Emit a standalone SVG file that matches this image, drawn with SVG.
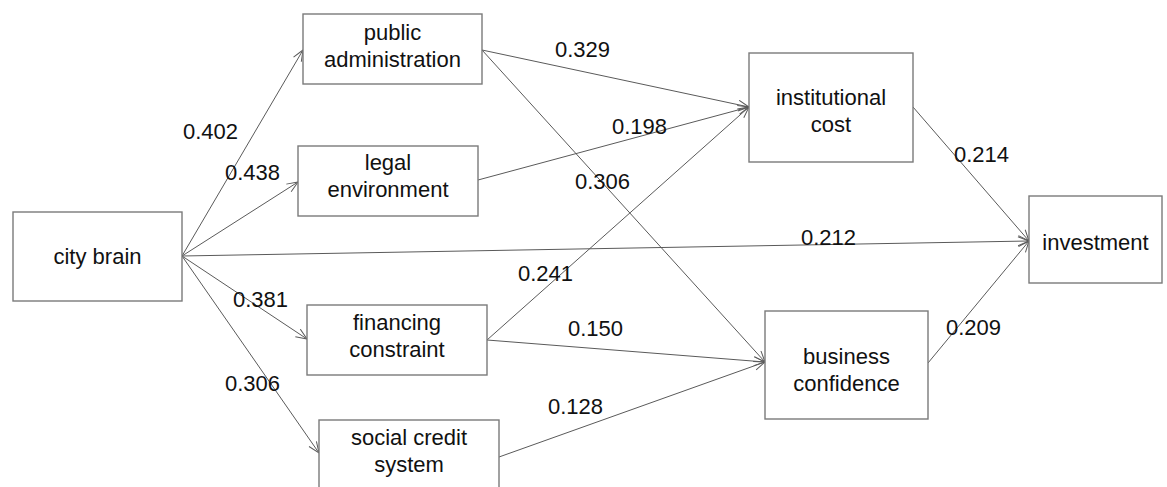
<svg xmlns="http://www.w3.org/2000/svg" width="1167" height="487" viewBox="0 0 1167 487">
<style>
.box{fill:#fff;stroke:#7a7a7a;stroke-width:1.4}
.t{font-family:"Liberation Sans",Arial,sans-serif;font-size:22px;fill:#111;text-anchor:middle}
.l{font-family:"Liberation Sans",Arial,sans-serif;font-size:22px;fill:#111}
.c{stroke:#5a5a5a;stroke-width:1;fill:none;marker-end:url(#ah)}
</style>
<defs>
<marker id="ah" markerUnits="userSpaceOnUse" markerWidth="14" markerHeight="12" refX="12" refY="5" orient="auto">
<path d="M1,0.5 L12,5 L1,9.5" fill="none" stroke="#5a5a5a" stroke-width="1"/>
</marker>
</defs>
<rect width="1167" height="487" fill="#fff"/>
<g id="connectors">
<line class="c" x1="182" y1="256" x2="303" y2="50"/>
<line class="c" x1="182" y1="256" x2="298" y2="182"/>
<line class="c" x1="182" y1="256" x2="307" y2="339"/>
<line class="c" x1="182" y1="256" x2="319" y2="453"/>
<line class="c" x1="182" y1="256" x2="1029" y2="241"/>
<line class="c" x1="482" y1="50" x2="749" y2="107"/>
<line class="c" x1="482" y1="50" x2="765" y2="362"/>
<line class="c" x1="478" y1="180" x2="749" y2="107"/>
<line class="c" x1="487" y1="340" x2="749" y2="107"/>
<line class="c" x1="487" y1="340" x2="765" y2="362"/>
<line class="c" x1="499" y1="457" x2="765" y2="362"/>
<line class="c" x1="913" y1="107" x2="1029" y2="241"/>
<line class="c" x1="928" y1="363" x2="1029" y2="241"/>
</g>
<g id="labels">
<text class="l" x="183" y="139">0.402</text>
<text class="l" x="225" y="180">0.438</text>
<text class="l" x="233" y="307">0.381</text>
<text class="l" x="225" y="391">0.306</text>
<text class="l" x="555" y="57">0.329</text>
<text class="l" x="612" y="134">0.198</text>
<text class="l" x="575" y="189">0.306</text>
<text class="l" x="518" y="281">0.241</text>
<text class="l" x="568" y="336">0.150</text>
<text class="l" x="548" y="414">0.128</text>
<text class="l" x="801" y="245">0.212</text>
<text class="l" x="954" y="162">0.214</text>
<text class="l" x="946" y="335">0.209</text>
</g>
<g id="city-brain">
<rect class="box" x="13" y="212" width="169" height="89"/>
<text class="t" x="97.5" y="264">city brain</text>
</g>
<g id="public-administration">
<rect class="box" x="303" y="14" width="179" height="70"/>
<text class="t" x="392.5" y="40">public</text>
<text class="t" x="392.5" y="67">administration</text>
</g>
<g id="legal-environment">
<rect class="box" x="298" y="146" width="180" height="70"/>
<text class="t" x="388" y="170">legal</text>
<text class="t" x="388" y="197">environment</text>
</g>
<g id="financing-constraint">
<rect class="box" x="307" y="305" width="180" height="70"/>
<text class="t" x="397" y="330">financing</text>
<text class="t" x="397" y="357">constraint</text>
</g>
<g id="social-credit-system">
<rect class="box" x="319" y="420" width="180" height="80"/>
<text class="t" x="409" y="445">social credit</text>
<text class="t" x="409" y="472">system</text>
</g>
<g id="institutional-cost">
<rect class="box" x="749" y="53" width="164" height="109"/>
<text class="t" x="831" y="105">institutional</text>
<text class="t" x="831" y="132">cost</text>
</g>
<g id="business-confidence">
<rect class="box" x="765" y="311" width="163" height="108"/>
<text class="t" x="846.5" y="364">business</text>
<text class="t" x="846.5" y="391">confidence</text>
</g>
<g id="investment">
<rect class="box" x="1029" y="196" width="133" height="87"/>
<text class="t" x="1095.5" y="250">investment</text>
</g>
</svg>
